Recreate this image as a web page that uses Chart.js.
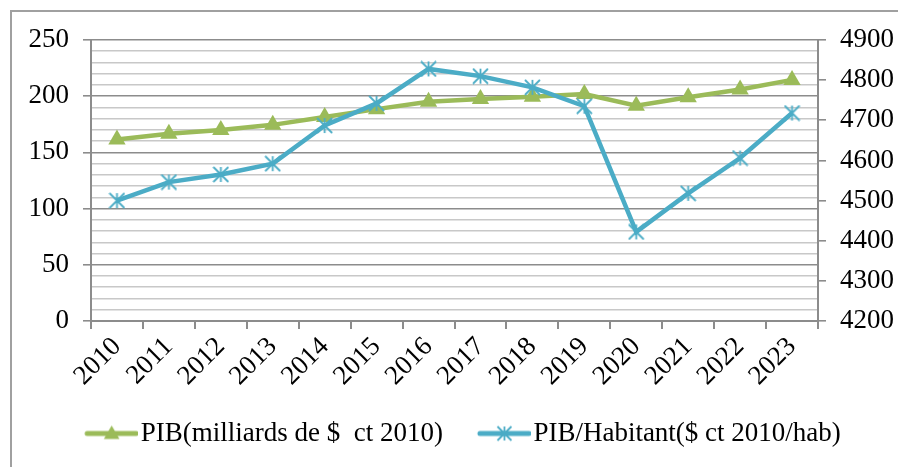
<!DOCTYPE html>
<html><head><meta charset="utf-8">
<script src="https://cdn.jsdelivr.net/npm/chart.js@4.4.1/dist/chart.umd.min.js"></script>
<style>html,body{margin:0;padding:0;background:#fff;}canvas{display:block;}</style>
</head><body>
<canvas id="c" width="898" height="467"></canvas>
<script>
const years = ['2010','2011','2012','2013','2014','2015','2016','2017','2018','2019','2020','2021','2022','2023'];
const pib = [161.5, 166.5, 170, 174.5, 181.5, 188.5, 195, 197.5, 199.5, 202, 191.5, 199, 206, 214.5];
const pibHab = [4500, 4546, 4565, 4592, 4687, 4742, 4828, 4810, 4782, 4735, 4422, 4518, 4606, 4718];
const leftTicks = [0, 50, 100, 150, 200, 250];
const rightTicks = [4200, 4300, 4400, 4500, 4600, 4700, 4800, 4900];
const seriesNames = ['PIB(milliards de $  ct 2010)', 'PIB/Habitant($ ct 2010/hab)'];

const GREEN = '#9BBB59', BLUE = '#4BACC6';
const FONT = "'Liberation Serif', 'Times New Roman', serif";
const FS = 27;

function drawTri(ctx, cx, cy, r, color) {
  ctx.fillStyle = color;
  ctx.beginPath();
  ctx.moveTo(cx, cy - r);
  ctx.lineTo(cx + r * Math.sin(2*Math.PI/3), cy - r * Math.cos(2*Math.PI/3));
  ctx.lineTo(cx - r * Math.sin(2*Math.PI/3), cy - r * Math.cos(2*Math.PI/3));
  ctx.closePath();
  ctx.fill();
}
function drawStar(ctx, cx, cy, h, color) {
  ctx.strokeStyle = color; ctx.lineWidth = 1.8; ctx.lineCap = 'butt';
  ctx.beginPath();
  ctx.moveTo(cx, cy - h); ctx.lineTo(cx, cy + h);
  ctx.moveTo(cx - h, cy - h); ctx.lineTo(cx + h, cy + h);
  ctx.moveTo(cx + h, cy - h); ctx.lineTo(cx - h, cy + h);
  ctx.stroke();
}
function makeStar(size) {
  const c = document.createElement('canvas'); c.width = size; c.height = size;
  drawStar(c.getContext('2d'), size/2, size/2, size/2 - 1, BLUE);
  return c;
}
// legend swatch: transparent left part, then a 52px line with the marker at its middle
function makeLegendImg(kind) {
  const w = 64, h = 22, x0 = 13, x1 = 62;
  const c = document.createElement('canvas'); c.width = w; c.height = h;
  const x = c.getContext('2d');
  x.strokeStyle = kind === 'tri' ? GREEN : BLUE; x.lineWidth = 5; x.lineCap = 'round';
  x.beginPath(); x.moveTo(x0, h/2); x.lineTo(x1, h/2); x.stroke();
  const mid = (x0 + x1) / 2;
  if (kind === 'tri') drawTri(x, mid, h/2 + 1, 9, GREEN); else drawStar(x, mid, h/2, 7, BLUE);
  return c;
}
const starImg = makeStar(17);
const legTri = makeLegendImg('tri'), legStar = makeLegendImg('star');

const frame = {
  id: 'frame',
  beforeDraw(chart) {
    const ctx = chart.ctx;
    ctx.save();
    ctx.fillStyle = '#fff'; ctx.fillRect(0, 0, chart.width, chart.height);
    ctx.strokeStyle = '#a0a0a0'; ctx.lineWidth = 2;
    ctx.beginPath(); ctx.moveTo(11, chart.height); ctx.lineTo(11, 11); ctx.lineTo(chart.width, 11); ctx.stroke();
    ctx.restore();
    // legend is centred on the (wider) outer frame in the reference
    if (chart.legend) { chart.legend.left = 14; chart.legend.right = chart.width + 14; }
  }
};

new Chart(document.getElementById('c'), {
  type: 'line',
  data: {
    labels: years,
    datasets: [
      { label: seriesNames[0], data: pib, yAxisID: 'y', order: 1,
        borderColor: GREEN, backgroundColor: GREEN, borderWidth: 4.5,
        pointStyle: 'triangle', pointRadius: 10, pointBackgroundColor: GREEN, pointBorderColor: GREEN, pointBorderWidth: 0,
        tension: 0 },
      { label: seriesNames[1], data: pibHab, yAxisID: 'y1', order: 0,
        borderColor: BLUE, backgroundColor: BLUE, borderWidth: 4.5,
        pointStyle: starImg, pointRadius: 8,
        tension: 0 }
    ]
  },
  options: {
    responsive: false, animation: false,
    layout: { padding: { top: 40, bottom: 20, left: 0, right: 0 } },
    plugins: {
      tooltip: { enabled: false },
      legend: {
        position: 'bottom', maxHeight: 62,
        labels: {
          usePointStyle: true, pointStyleWidth: 42, padding: 35,
          color: '#000', font: { family: FONT, size: FS },
          generateLabels: () => [
            { text: seriesNames[0], pointStyle: legTri, fillStyle: GREEN, strokeStyle: GREEN, lineWidth: 0, hidden: false, datasetIndex: 0, fontColor: '#000' },
            { text: seriesNames[1], pointStyle: legStar, fillStyle: BLUE, strokeStyle: BLUE, lineWidth: 0, hidden: false, datasetIndex: 1, fontColor: '#000' }
          ]
        }
      }
    },
    scales: {
      x: {
        offset: true,
        afterFit: s => { s.height = 64; },
        grid: { offset: true, drawOnChartArea: false, tickLength: 8, color: '#8c8c8c', lineWidth: 2 },
        border: { color: '#8c8c8c', width: 2 },
        ticks: { color: '#000', font: { family: FONT, size: FS }, minRotation: 45, maxRotation: 45, autoSkip: false, padding: 2 }
      },
      y: {
        position: 'left', min: leftTicks[0], max: leftTicks[leftTicks.length - 1],
        afterFit: s => { s.width = 91; },
        border: { color: '#8c8c8c', width: 2 },
        grid: {
          tickLength: 8, lineWidth: 1.6,
          color: c => (c.tick && c.tick.value % 50 === 0) ? '#8c8c8c' : '#c8c8c8',
          tickColor: c => (c.tick && c.tick.value % 50 === 0) ? '#8c8c8c' : 'rgba(0,0,0,0)'
        },
        ticks: { stepSize: 10, autoSkip: false, color: '#000', padding: 14, font: { family: FONT, size: FS },
          callback: v => leftTicks.includes(v) ? String(v) : '' }
      },
      y1: {
        position: 'right', min: rightTicks[0], max: rightTicks[rightTicks.length - 1],
        afterFit: s => { s.width = 80; },
        border: { color: '#8c8c8c', width: 2 },
        grid: { drawOnChartArea: false, tickLength: 8, color: '#8c8c8c', lineWidth: 1.6 },
        ticks: { stepSize: 100, color: '#000', padding: 14, font: { family: FONT, size: FS },
          callback: v => rightTicks.includes(v) ? String(v) : '' }
      }
    }
  },
  plugins: [frame]
});
</script>
</body></html>
